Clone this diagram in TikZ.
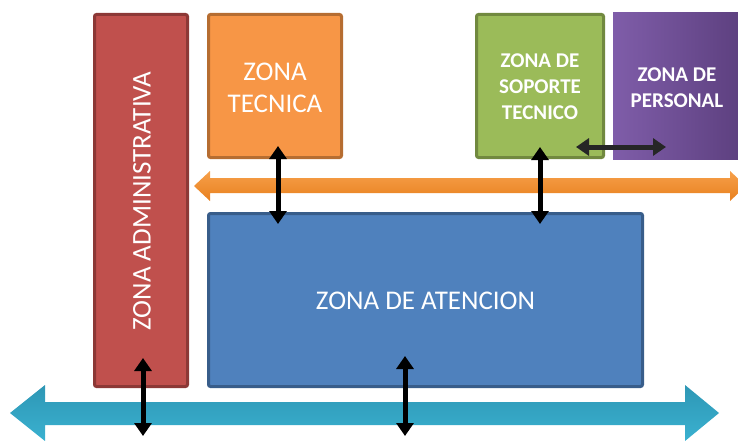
\documentclass[tikz,border=0pt]{standalone}
\usepackage{fontspec}
\setmainfont{Carlito}
\usetikzlibrary{arrows.meta,calc}
\definecolor{redF}{HTML}{C0504D}
\definecolor{redD}{HTML}{8C3836}
\definecolor{oraF}{HTML}{F79646}
\definecolor{oraD}{HTML}{B66D31}
\definecolor{grnF}{HTML}{9BBB59}
\definecolor{grnD}{HTML}{71893F}
\definecolor{bluF}{HTML}{4F81BD}
\definecolor{bluD}{HTML}{385D8A}
\definecolor{purL}{HTML}{7F5DA9}
\definecolor{purR}{HTML}{5C3F7E}
\definecolor{cyaT}{HTML}{2E97B5}
\definecolor{cyaB}{HTML}{3AB1D0}
\definecolor{orT}{HTML}{F7A04A}
\definecolor{orB}{HTML}{E8801F}
\begin{document}
\begin{tikzpicture}[x=1pt,y=-1pt,
  zone/.style={line width=3pt,rounded corners=2pt,inner sep=0pt},
  ztext/.style={text=white,align=center,font=\fontsize{27}{32}\selectfont},
  zbold/.style={text=white,align=center,font=\bfseries\fontsize{21}{26}\selectfont},
  link/.style={line width=5pt,{Triangle[width=17pt,length=13pt]}-{Triangle[width=17pt,length=13pt]}}
]
\useasboundingbox (0,0) rectangle (738,441);
\clip (0,0) rectangle (738,441);
% boxes
\draw[zone,draw=redD,fill=redF] (94.5,14.5) rectangle (187.5,386.5);
\node[ztext,rotate=90] (adm) at (142,201) {ZONA ADMINISTRATIVA};
\draw[zone,draw=oraD,fill=oraF] (208.5,14.5) rectangle (341.5,157.5);
\node[ztext] (tec) at (275,88) {ZONA\\TECNICA};
\draw[zone,draw=grnD,fill=grnF] (476.5,14.5) rectangle (603.5,157.5);
\node[zbold] (sop) at (540,87) {ZONA DE\\SOPORTE\\TECNICO};
\shade[left color=purL,right color=purR] (613,13) rectangle (745,159);
\node[zbold] (per) at (677,87.5) {ZONA DE\\PERSONAL};
\draw[zone,draw=bluD,fill=bluF] (208.5,213.5) rectangle (642.5,386.5);
\node[ztext] (ate) at (425.5,301) {ZONA DE ATENCION};
% orange arrow
\shade[top color=orT,bottom color=orB]
  (194,186) -- (210,171) -- (210,178) -- (730,178) -- (730,171) -- (746,186)
  -- (730,201) -- (730,193) -- (210,193) -- (210,201) -- cycle;
% cyan arrow
\shade[top color=cyaT,bottom color=cyaB]
  (10,413) -- (45,385) -- (45,402) -- (685,402) -- (685,385) -- (719,413)
  -- (685,441) -- (685,425) -- (45,425) -- (45,441) -- cycle;
% connectors
\coordinate (t1) at (278,146); \coordinate (t2) at (278,224);
\coordinate (s1) at (540,147); \coordinate (s2) at (540,224);
\coordinate (h1) at (576,147); \coordinate (h2) at (666,147);
\coordinate (r1) at (143,358); \coordinate (r2) at (143,436);
\coordinate (b1) at (405,356); \coordinate (b2) at (405,436);
\draw[link] (t1) -- (t2);
\draw[link] (s1) -- (s2);
\draw[link,draw=black!85,fill=black!85] (h1) -- (h2);
\draw[link] (r1) -- (r2);
\draw[link] (b1) -- (b2);
\end{tikzpicture}
\end{document}
